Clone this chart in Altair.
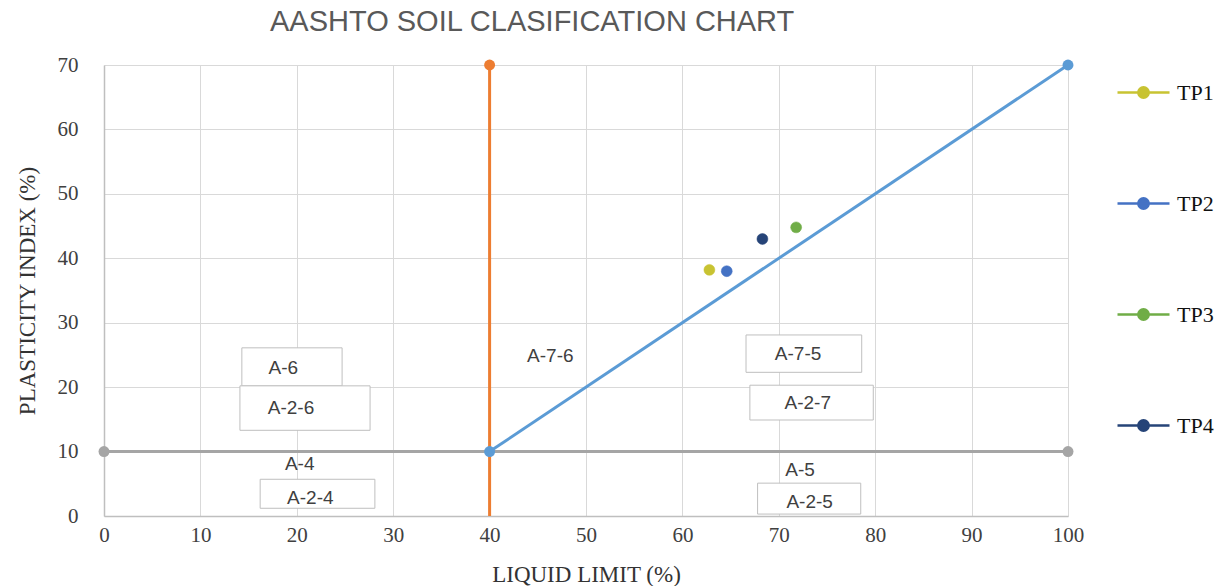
import altair as alt
import pandas as pd

# Test pit points
tp_names = ["TP1", "TP2", "TP3", "TP4"]
tp_ll = [62.8, 64.6, 71.8, 68.3]
tp_pi = [38.2, 38.0, 44.8, 43.0]
tp_colors = ["#c8c332", "#4472c4", "#70ad47", "#264478"]

# Classification boundary lines
orange_x = [40, 40]
orange_y = [0, 70]
gray_x = [0, 100]
gray_y = [10, 10]
blue_x = [40, 100]
blue_y = [10, 70]

# Group labels with boxes
box_labels = ["A-6", "A-2-6", "A-7-5", "A-2-7", "A-2-4", "A-2-5"]
box_x1 = [14.3, 14.1, 66.6, 67.0, 16.2, 67.8]
box_x2 = [24.7, 27.6, 78.6, 79.8, 28.1, 78.5]
box_y1 = [20.2, 13.3, 22.3, 14.9, 1.2, 0.3]
box_y2 = [26.1, 20.2, 28.1, 20.3, 5.7, 5.1]
box_tx = [18.6, 19.4, 72.0, 73.0, 21.4, 73.2]
box_ty = [23.0, 16.8, 25.1, 17.5, 2.8, 2.2]

# Group labels without boxes
free_labels = ["A-7-6", "A-4", "A-5"]
free_tx = [46.3, 20.3, 72.2]
free_ty = [24.8, 8.1, 7.1]

xs = alt.Scale(domain=[0, 100], nice=False)
ys = alt.Scale(domain=[0, 70], nice=False)

x_axis = alt.Axis(values=list(range(0, 101, 10)), title="LIQUID LIMIT (%)", grid=True, labelFlush=False)
y_axis = alt.Axis(values=list(range(0, 71, 10)), title="PLASTICITY INDEX (%)", grid=True)


def seg(xv, yv, color, marker_idx):
    df = pd.DataFrame({"x": xv, "y": yv})
    ln = alt.Chart(df).mark_line(color=color, strokeWidth=3).encode(
        x=alt.X("x:Q", scale=xs, axis=x_axis),
        y=alt.Y("y:Q", scale=ys, axis=y_axis),
    )
    pts = alt.Chart(df.iloc[marker_idx]).mark_circle(color=color, size=120, opacity=1).encode(
        x=alt.X("x:Q", scale=xs), y=alt.Y("y:Q", scale=ys)
    )
    return ln + pts


orange = seg(orange_x, orange_y, "#ed7d31", [1])
gray = seg(gray_x, gray_y, "#a5a5a5", [0, 1])
blue = seg(blue_x, blue_y, "#5b9bd5", [0, 1])

boxes_df = pd.DataFrame({
    "label": box_labels, "x1": box_x1, "x2": box_x2, "y1": box_y1, "y2": box_y2,
    "tx": box_tx, "ty": box_ty,
})
boxes = alt.Chart(boxes_df).mark_rect(fill="white", stroke="#bfbfbf", strokeWidth=1).encode(
    x=alt.X("x1:Q", scale=xs), x2="x2:Q", y=alt.Y("y1:Q", scale=ys), y2="y2:Q"
)
box_text = alt.Chart(boxes_df).mark_text(
    font="Liberation Sans", fontSize=19, color="#404040"
).encode(x=alt.X("tx:Q", scale=xs), y=alt.Y("ty:Q", scale=ys), text="label:N")

free_df = pd.DataFrame({"label": free_labels, "tx": free_tx, "ty": free_ty})
free_text = alt.Chart(free_df).mark_text(
    font="Liberation Sans", fontSize=19, color="#404040"
).encode(x=alt.X("tx:Q", scale=xs), y=alt.Y("ty:Q", scale=ys), text="label:N")

tp_df = pd.DataFrame({"name": tp_names, "ll": tp_ll, "pi": tp_pi})
cscale = alt.Scale(domain=tp_names, range=tp_colors)
leg = alt.Legend(
    title=None, orient="none", legendX=1012, legendY=0,
    symbolType="M-1,0L1,0M-0.2,0A0.2,0.2 0 1,0 0.2,0A0.2,0.2 0 1,0 -0.2,0",
    symbolSize=2704, symbolStrokeWidth=2.5, rowPadding=72,
    labelFont="Liberation Serif", labelFontSize=22, labelColor="#111111", labelOffset=6,
)
points = alt.Chart(tp_df).mark_point(filled=True, size=120, opacity=1, strokeWidth=0.5).encode(
    x=alt.X("ll:Q", scale=xs),
    y=alt.Y("pi:Q", scale=ys),
    fill=alt.Fill("name:N", scale=cscale, legend=leg),
    stroke=alt.Stroke("name:N", scale=cscale, legend=leg),
)

chart = alt.layer(orange, gray, blue, boxes, box_text, free_text, points).properties(
    width=964, height=451,
    autosize=alt.AutoSizeParams(type="none"),
    padding={"left": 104, "top": 65, "right": 160, "bottom": 70},
    title=alt.TitleParams(
        "AASHTO SOIL CLASIFICATION CHART", anchor="start", dx=254, offset=17,
        font="Liberation Sans", fontSize=29, fontWeight="normal", color="#595959",
    ),
).configure_view(stroke=None).configure_axis(
    gridColor="#d9d9d9", gridWidth=1, domainColor="#bfbfbf", domainWidth=1.5,
    ticks=False, labelFont="Liberation Serif", labelFontSize=21, labelColor="#404040",
    titleFont="Liberation Serif", titleFontSize=23, titleColor="#333333", titleFontWeight="normal",
).configure_axisX(labelPadding=8, titlePadding=18).configure_axisY(labelPadding=26, titlePadding=18)

chart.save("out.html", embed_options={"renderer": "svg", "actions": False})
